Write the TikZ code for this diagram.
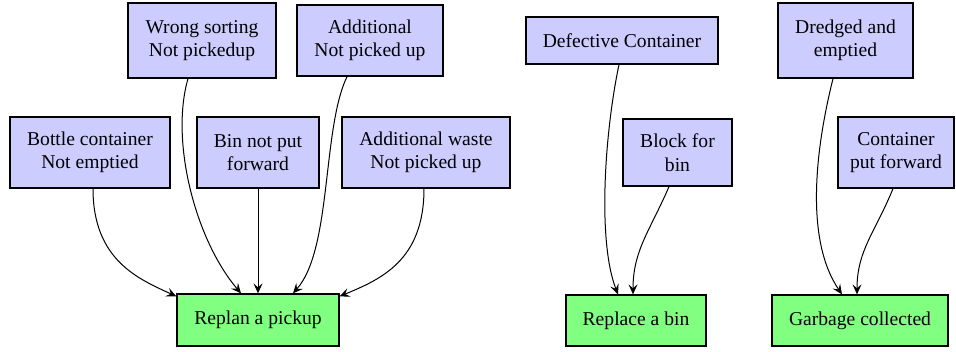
\documentclass[tikz,border=0pt]{standalone}
\usepackage{fontspec}
\setmainfont{Liberation Serif}
\usetikzlibrary{arrows.meta}
\definecolor{srcfill}{RGB}{204,204,255}
\definecolor{dstfill}{RGB}{128,255,128}
\begin{document}
\begin{tikzpicture}[x=1pt,y=-1pt,
  box/.style={draw=black, line width=1.3pt, inner sep=0pt, align=center,
    font=\fontsize{19.6}{23.5}\selectfont},
  src/.style={box, fill=srcfill},
  dst/.style={box, fill=dstfill},
  arr/.style={draw=black, line width=1pt, -{Stealth[length=10pt,width=9pt,inset=4pt]}}]
\useasboundingbox (0,0) rectangle (956,351);
% sources
\node[src, minimum width=148pt, minimum height=75pt] (ws) at (202,40.5) {Wrong sorting\\Not pickedup};
\node[src, minimum width=146pt, minimum height=71pt] (ad) at (370,40.5) {Additional\\Not picked up};
\node[src, minimum width=160pt, minimum height=71pt] (bc) at (90,152.5) {Bottle container\\Not emptied};
\node[src, minimum width=122pt, minimum height=71pt] (bn) at (258,152.5) {Bin not put\\forward};
\node[src, minimum width=168pt, minimum height=71pt] (aw) at (426,152.5) {Additional waste\\Not picked up};
\node[src, minimum width=192pt, minimum height=47pt] (dc) at (622,40.5) {Defective Container};
\node[src, minimum width=109pt, minimum height=67pt] (bb) at (677.5,152.5) {Block for\\bin};
\node[src, minimum width=135pt, minimum height=75pt] (de) at (845.5,40.5) {Dredged and\\emptied};
\node[src, minimum width=116pt, minimum height=71pt] (cf) at (896,152.5) {Container\\put forward};
% targets
\node[dst, minimum width=162pt, minimum height=52pt] (rp) at (258,320) {Replan a pickup};
\node[dst, minimum width=140pt, minimum height=51pt] (rb) at (636,320.5) {Replace a bin};
\node[dst, minimum width=176pt, minimum height=51pt] (gc) at (860,320.5) {Garbage collected};
% connectors
\draw[arr] ([xshift=-14pt]ws.south) .. controls +(-18,62) and +(-46,-54) .. ([xshift=-17pt]rp.north);
\draw[arr] ([xshift=-23pt]ad.south) .. controls +(-25,52) and +(39,-44) .. ([xshift=35pt]rp.north);
\draw[arr] ([xshift=3pt]bc.south) .. controls +(0,72) and +(-37,-17) .. ([yshift=-3pt]rp.north west);
\draw[arr] ([xshift=-2pt]aw.south) .. controls +(0,72) and +(41,-17) .. ([yshift=-3pt]rp.north east);
\draw[arr] (bn.south) -- (rp.north);
\draw[arr] ([xshift=-3pt]dc.south) .. controls +(-14,66) and +(-21,-54) .. ([xshift=-18pt]rb.north);
\draw[arr] ([xshift=-8.5pt]bb.south) .. controls +(-19,44) and +(0,-44) .. ([xshift=-3pt]rb.north);
\draw[arr] ([xshift=-12.5pt]de.south) .. controls +(-18,72) and +(-37,-54) .. ([xshift=-18pt]gc.north);
\draw[arr] ([xshift=-3pt]cf.south) .. controls +(-18,44) and +(0,-44) .. ([xshift=-3pt]gc.north);
\end{tikzpicture}
\end{document}
